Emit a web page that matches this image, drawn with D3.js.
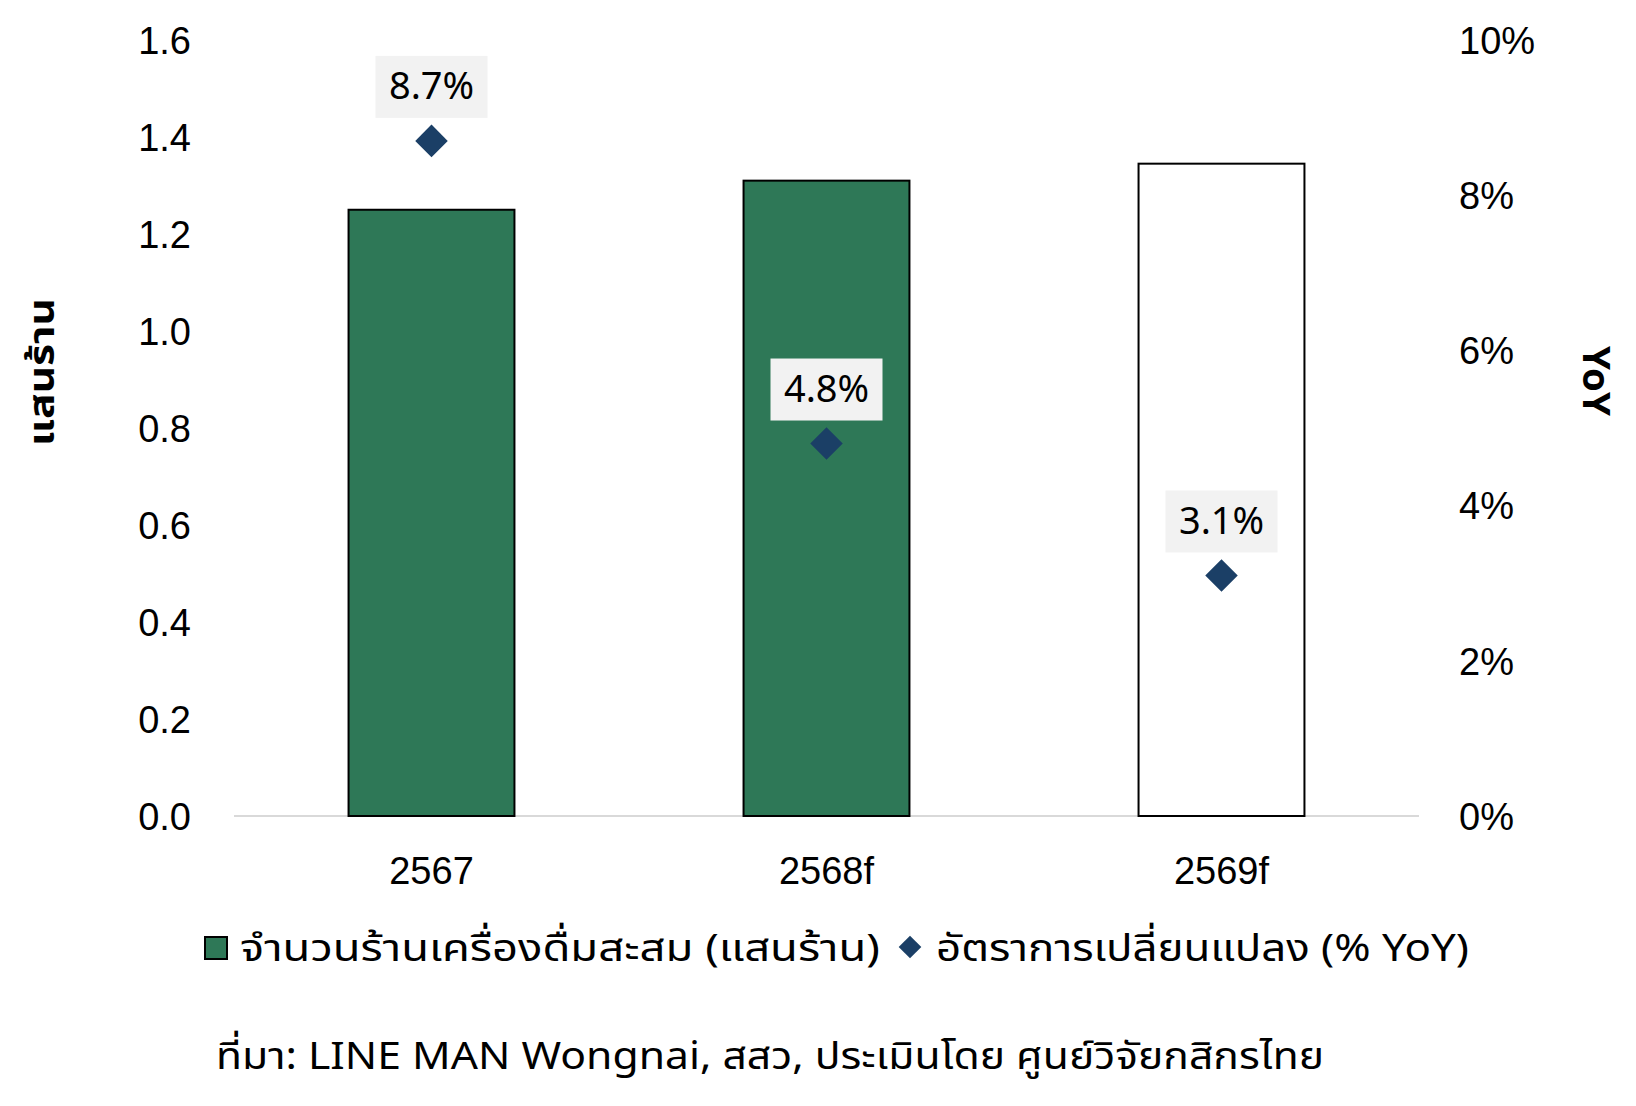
<!DOCTYPE html>
<html><head><meta charset="utf-8">
<script src="https://cdn.jsdelivr.net/npm/d3@7"></script>
<style>
html,body{margin:0;padding:0;background:#fff;}
svg{display:block;font-family:"Noto Sans Thai","Noto Sans","Liberation Sans Narrow","Liberation Sans",sans-serif;}
</style></head>
<body>
<svg id="chart" width="1636" height="1106"></svg>
<script>
const categories = ["2567", "2568f", "2569f"];
const shops = [1.25, 1.31, 1.345];           // แสนร้าน
const yoy = [8.7, 4.8, 3.1];                 // % YoY
const barFills = ["#2e7857", "#2e7857", "#ffffff"];
const leftTicks = [0, 0.2, 0.4, 0.6, 0.8, 1.0, 1.2, 1.4, 1.6];
const rightTicks = [0, 2, 4, 6, 8, 10];
const legendLabels = ["จำนวนร้านเครื่องดื่มสะสม (แสนร้าน)", "อัตราการเปลี่ยนแปลง (% YoY)"];
const leftTitle = "แสนร้าน";
const rightTitle = "YoY";
const sourceText = "ที่มา: LINE MAN Wongnai, สสว, ประเมินโดย ศูนย์วิจัยกสิกรไทย";

const svg = d3.select("#chart");
const m = {left: 234, right: 1419, top: 40, bottom: 816};

const x = d3.scaleBand().domain(categories).range([m.left, m.right]).paddingInner(0.58).paddingOuter(0.29);
const yL = d3.scaleLinear().domain([0, 1.6]).range([m.bottom, m.top]);
const yR = d3.scaleLinear().domain([0, 10]).range([m.bottom, m.top]);

const fs = 38;

// baseline
svg.append("line").attr("x1", m.left).attr("x2", m.right).attr("y1", yL(0)).attr("y2", yL(0))
  .attr("stroke", "#d9d9d9").attr("stroke-width", 2);

// bars
svg.append("g").selectAll("rect").data(shops).join("rect")
  .attr("x", (d, i) => x(categories[i]))
  .attr("width", x.bandwidth())
  .attr("y", d => yL(d))
  .attr("height", d => yL(0) - yL(d))
  .attr("fill", (d, i) => barFills[i])
  .attr("stroke", "#000").attr("stroke-width", 2);

// left axis
const gL = svg.append("g").attr("transform", `translate(${m.left - 43},0)`)
  .call(d3.axisLeft(yL).tickValues(leftTicks).tickFormat(d3.format(".1f")).tickSize(0).tickPadding(0));
gL.select(".domain").remove();
gL.selectAll("text").attr("font-size", fs).attr("fill", "#000").attr("font-family", null).attr("dy", "0.35em");

// right axis
const gR = svg.append("g").attr("transform", `translate(${m.right + 40},0)`)
  .call(d3.axisRight(yR).tickValues(rightTicks).tickFormat(d => d + "%").tickSize(0).tickPadding(0));
gR.select(".domain").remove();
gR.selectAll("text").attr("font-size", fs).attr("fill", "#000").attr("font-family", null).attr("dy", "0.35em");

// x axis
const gX = svg.append("g").attr("transform", `translate(0,${yL(0) + 41})`)
  .call(d3.axisBottom(x).tickSize(0).tickPadding(0));
gX.select(".domain").remove();
gX.selectAll("text").attr("font-size", fs).attr("fill", "#000").attr("font-family", null).attr("dy", "0.71em");

// diamonds
const diamond = d3.symbol().type(d3.symbolSquare).size(23 * 23);
const cx = i => x(categories[i]) + x.bandwidth() / 2;
svg.append("g").selectAll("path").data(yoy).join("path")
  .attr("d", diamond)
  .attr("transform", (d, i) => `translate(${cx(i)},${yR(d)}) rotate(45)`)
  .attr("fill", "#1b3f66");

// labels
const lab = svg.append("g").selectAll("g").data(yoy).join("g")
  .attr("transform", (d, i) => `translate(${cx(i)},${yR(d) - 55})`);
lab.append("rect").attr("x", -56).attr("y", -30).attr("width", 112).attr("height", 62).attr("fill", "#f2f2f2");
lab.append("text").attr("text-anchor", "middle").attr("dy", "0.35em").attr("font-size", fs)
  .text(d => d.toFixed(1) + "%");

// axis titles
svg.append("text").attr("transform", `translate(41,372) rotate(-90)`).attr("text-anchor", "middle")
  .attr("dy", "0.35em").attr("font-size", 36).attr("font-weight", "bold")
  .attr("textLength", 148).attr("lengthAdjust", "spacingAndGlyphs").text(leftTitle);
svg.append("text").attr("transform", `translate(1596,381) rotate(90)`).attr("text-anchor", "middle")
  .attr("dy", "0.35em").attr("font-size", 38).attr("font-weight", "bold")
  .attr("textLength", 70).attr("lengthAdjust", "spacingAndGlyphs").text(rightTitle);

// legend
const lg = svg.append("g");
lg.append("rect").attr("x", 205).attr("y", 937).attr("width", 22).attr("height", 22)
  .attr("fill", barFills[0]).attr("stroke", "#000").attr("stroke-width", 2);
lg.append("text").attr("x", 240).attr("y", 948).attr("dy", "0.35em").attr("font-size", fs)
  .attr("textLength", 640).attr("lengthAdjust", "spacingAndGlyphs").text(legendLabels[0]);
lg.append("path").attr("d", d3.symbol().type(d3.symbolSquare).size(16 * 16))
  .attr("transform", "translate(910,947) rotate(45)").attr("fill", "#1b3f66");
lg.append("text").attr("x", 936).attr("y", 948).attr("dy", "0.35em").attr("font-size", fs)
  .attr("textLength", 533).attr("lengthAdjust", "spacingAndGlyphs").text(legendLabels[1]);

// source
svg.append("text").attr("x", 216).attr("y", 1056).attr("dy", "0.35em").attr("font-size", fs)
  .attr("textLength", 1108).attr("lengthAdjust", "spacingAndGlyphs").text(sourceText);
</script>
</body></html>
